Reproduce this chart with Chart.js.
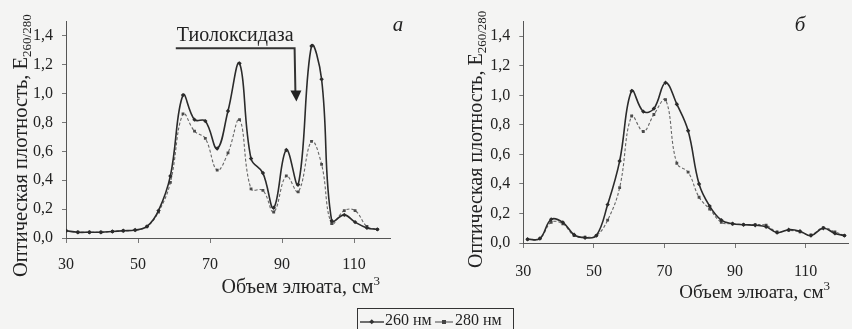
<!DOCTYPE html>
<html>
<head>
<meta charset="utf-8">
<script src="https://cdn.jsdelivr.net/npm/chart.js@4"></script>
<style>
  html, body { margin:0; padding:0; background:#f4f4f3; }
  #wrap { position:relative; width:852px; height:329px; overflow:hidden; }
  canvas { position:absolute; top:0; }
  #legend { position:absolute; left:357px; top:308px; width:157px; height:30px;
            border:1px solid #333; box-sizing:border-box; font:16px 'Liberation Serif', serif; color:#222;
            white-space:nowrap; }
  #legend span { position:absolute; top:2px; }
  #legend svg { position:absolute; top:9px; }
</style>
</head>
<body>
<div id="wrap">
  <canvas id="cA" width="426" height="329" style="left:0;width:426px;height:329px"></canvas>
  <canvas id="cB" width="426" height="329" style="left:426px;width:426px;height:329px"></canvas>
  <div id="legend">
    <svg width="24" height="8" style="left:2px"><line x1="0" y1="4" x2="24" y2="4" stroke="#333" stroke-width="1.4"/><rect x="10" y="2" width="3.5" height="3.5" transform="rotate(45 11.75 3.75)" fill="#333"/></svg>
    <span style="left:27px">260 нм</span>
    <svg width="18" height="8" style="left:77px"><line x1="0" y1="4" x2="18" y2="4" stroke="#555" stroke-width="1.1"/><rect x="7" y="2" width="4" height="4" fill="#444"/></svg>
    <span style="left:97px">280 нм</span>
  </div>
</div>
<script>
// ---- data ----
const xTicks = [30, 50, 70, 90, 110];
const yTicks = [0, 0.2, 0.4, 0.6, 0.8, 1.0, 1.2, 1.4];
const seriesNames = ['260 нм', '280 нм'];

// panel "а"
const volumeA = [30, 33.3, 36.5, 39.7, 42.9, 45.9, 49.2, 52.5, 55.7, 59.0, 62.5, 65.7, 68.7, 72.0,
                 75.0, 78.2, 81.4, 84.7, 87.7, 91.2, 94.5, 98.2, 101.0, 103.8, 107.3, 110.3, 113.6, 116.5];
const a260 = [0.05, 0.04, 0.04, 0.04, 0.045, 0.05, 0.055, 0.08, 0.19, 0.43, 0.99, 0.82, 0.81, 0.62,
              0.88, 1.21, 0.55, 0.45, 0.21, 0.61, 0.37, 1.33, 1.10, 0.12, 0.16, 0.11, 0.07, 0.06];
const a280 = [0.05, 0.04, 0.04, 0.04, 0.045, 0.05, 0.055, 0.08, 0.18, 0.385, 0.86, 0.74, 0.69, 0.47,
              0.59, 0.82, 0.34, 0.33, 0.18, 0.43, 0.32, 0.67, 0.51, 0.10, 0.19, 0.19, 0.08, 0.06];

// panel "б"
const volumeB = [31.2, 34.7, 37.9, 41.2, 44.4, 47.5, 50.7, 53.9, 57.3, 60.7, 64.0, 67.0, 70.3, 73.5,
                 76.7, 79.8, 82.8, 86.1, 89.3, 92.4, 95.7, 98.8, 101.9, 105.2, 108.4, 111.5, 115.0, 118.3, 121.0];
const b260 = [0.025, 0.03, 0.16, 0.14, 0.056, 0.036, 0.05, 0.26, 0.555, 1.03, 0.89, 0.91, 1.085, 0.94,
              0.76, 0.40, 0.25, 0.155, 0.13, 0.124, 0.12, 0.11, 0.07, 0.09, 0.08, 0.05, 0.10, 0.065, 0.05];
const b280 = [0.025, 0.03, 0.14, 0.13, 0.05, 0.04, 0.05, 0.155, 0.375, 0.86, 0.755, 0.87, 0.97, 0.54,
              0.48, 0.31, 0.23, 0.14, 0.13, 0.125, 0.124, 0.12, 0.075, 0.086, 0.075, 0.055, 0.104, 0.075, 0.05];

// texts
const yTitleMain = 'Оптическая плотность, E';
const yTitleSub = '260/280';
const xTitleMain = 'Объем элюата, см';
const xTitleSup = '3';
const panelLabels = ['а', 'б'];
const annotationText = 'Тиолоксидаза';
// annotation anchor (data coords): label line start/end and arrow tip
const arrowLine = { x1: 60.5, x2: 93.5, y: 1.315, tipX: 94.0, tipY: 0.945 };

const FONT = "'Liberation Serif', 'Times New Roman', serif";
const INK = '#222';

function toPoints(xs, ys) { return xs.map((x, i) => ({ x: x, y: ys[i] })); }

function drawRich(ctx, parts, x, y, align) {
  let total = 0;
  parts.forEach(p => { ctx.font = p.font; total += ctx.measureText(p.t).width; });
  let cx = align === 'right' ? x - total : (align === 'center' ? x - total / 2 : x);
  ctx.textAlign = 'left';
  ctx.textBaseline = 'alphabetic';
  parts.forEach(p => {
    ctx.font = p.font;
    ctx.fillText(p.t, cx, y + (p.dy || 0));
    cx += ctx.measureText(p.t).width;
  });
}

const decorPlugin = {
  id: 'decor',
  afterDraw(chart, args, o) {
    const ctx = chart.ctx;
    ctx.save();
    ctx.fillStyle = INK;
    // y title (rotated)
    ctx.save();
    ctx.translate(o.yTitleX, o.yTitleY);
    ctx.rotate(-Math.PI / 2);
    drawRich(ctx, [
      { t: yTitleMain, font: o.titleSize + 'px ' + FONT },
      { t: yTitleSub, font: '13px ' + FONT, dy: 4 }
    ], 0, 0, 'left');
    ctx.restore();
    // x title
    drawRich(ctx, [
      { t: xTitleMain, font: o.xTitleSize + 'px ' + FONT },
      { t: xTitleSup, font: '13px ' + FONT, dy: -8 }
    ], o.xTitleX, o.xTitleY, 'right');
    // panel letter
    ctx.font = 'italic 21px ' + FONT;
    ctx.textAlign = 'center';
    ctx.textBaseline = 'alphabetic';
    ctx.fillText(o.letter, o.letterX, o.letterY);
    // annotation
    if (o.annotation) {
      const xs = chart.scales.x, ys = chart.scales.y;
      const x1 = xs.getPixelForValue(arrowLine.x1), x2 = xs.getPixelForValue(arrowLine.x2);
      const ly = ys.getPixelForValue(arrowLine.y);
      const tx = xs.getPixelForValue(arrowLine.tipX), ty = ys.getPixelForValue(arrowLine.tipY);
      ctx.font = '20px ' + FONT;
      ctx.textAlign = 'center';
      ctx.fillText(annotationText, (x1 + x2) / 2, ly - 7);
      ctx.strokeStyle = '#333';
      ctx.lineWidth = 2;
      ctx.beginPath();
      ctx.moveTo(x1, ly);
      ctx.lineTo(x2, ly);
      ctx.lineTo(tx - 1, ty - 10);
      ctx.stroke();
      ctx.beginPath();
      ctx.moveTo(tx - 6, ty - 11);
      ctx.lineTo(tx + 5, ty - 11);
      ctx.lineTo(tx, ty);
      ctx.closePath();
      ctx.fill();
    }
    ctx.restore();
  }
};

function makeChart(id, xs, s260, s280, geo) {
  return new Chart(document.getElementById(id), {
    type: 'line',
    data: {
      datasets: [
        { label: seriesNames[0], data: toPoints(xs, s260), borderColor: '#2b2b2b', backgroundColor: '#2b2b2b',
          borderWidth: 1.6, pointStyle: 'rectRot', pointRadius: 2.2, pointBorderWidth: 0, tension: 0.4 },
        { label: seriesNames[1], data: toPoints(xs, s280), borderColor: '#666', backgroundColor: '#4a4a4a',
          borderWidth: 1.1, borderDash: [3, 2], pointStyle: 'rect', pointRadius: 2, pointBorderWidth: 0, tension: 0.4 }
      ]
    },
    options: {
      responsive: false,
      animation: false,
      devicePixelRatio: 1,
      layout: { padding: { left: 0, top: 21.5, right: geo.padRight, bottom: 0 } },
      plugins: {
        legend: { display: false },
        tooltip: { enabled: false },
        decor: geo.decor
      },
      scales: {
        x: {
          type: 'linear', min: 30, max: geo.xMax,
          afterBuildTicks: s => { s.ticks = xTicks.map(v => ({ value: v })); },
          afterFit: s => { s.height = 329 - geo.xAxisY; },
          grid: { display: true, drawOnChartArea: false, drawTicks: true, tickLength: 5, color: '#777' },
          border: { display: true, color: '#555', width: 1 },
          ticks: { font: { family: FONT, size: 16 }, color: INK, padding: geo.xPad, maxRotation: 0,
                   callback: v => String(v) }
        },
        y: {
          type: 'linear', min: 0, max: 1.5,
          afterBuildTicks: s => { s.ticks = yTicks.map(v => ({ value: v })); },
          afterFit: s => { s.width = geo.yAxisX; },
          grid: { display: true, drawOnChartArea: false, drawTicks: true, tickLength: 4, color: '#777' },
          border: { display: true, color: '#555', width: 1 },
          ticks: { font: { family: FONT, size: 16 }, color: INK, padding: 9,
                   callback: v => v.toFixed(1).replace('.', ',') }
        }
      }
    },
    plugins: [decorPlugin]
  });
}

makeChart('cA', volumeA, a260, a280, {
  padRight: 36, xMax: 120, xAxisY: 238, yAxisX: 66, xPad: 12,
  decor: { yTitleX: 27, yTitleY: 277, titleSize: 20.5, xTitleX: 380, xTitleY: 293, xTitleSize: 20,
           letter: panelLabels[0], letterX: 398, letterY: 31, annotation: true }
});
makeChart('cB', volumeB, b260, b280, {
  padRight: 0, xMax: 122, xAxisY: 243, yAxisX: 97.3, xPad: 14,
  decor: { yTitleX: 56, yTitleY: 268, titleSize: 20, xTitleX: 404, xTitleY: 298, xTitleSize: 19,
           letter: panelLabels[1], letterX: 374, letterY: 31, annotation: false }
});
</script>
</body>
</html>
